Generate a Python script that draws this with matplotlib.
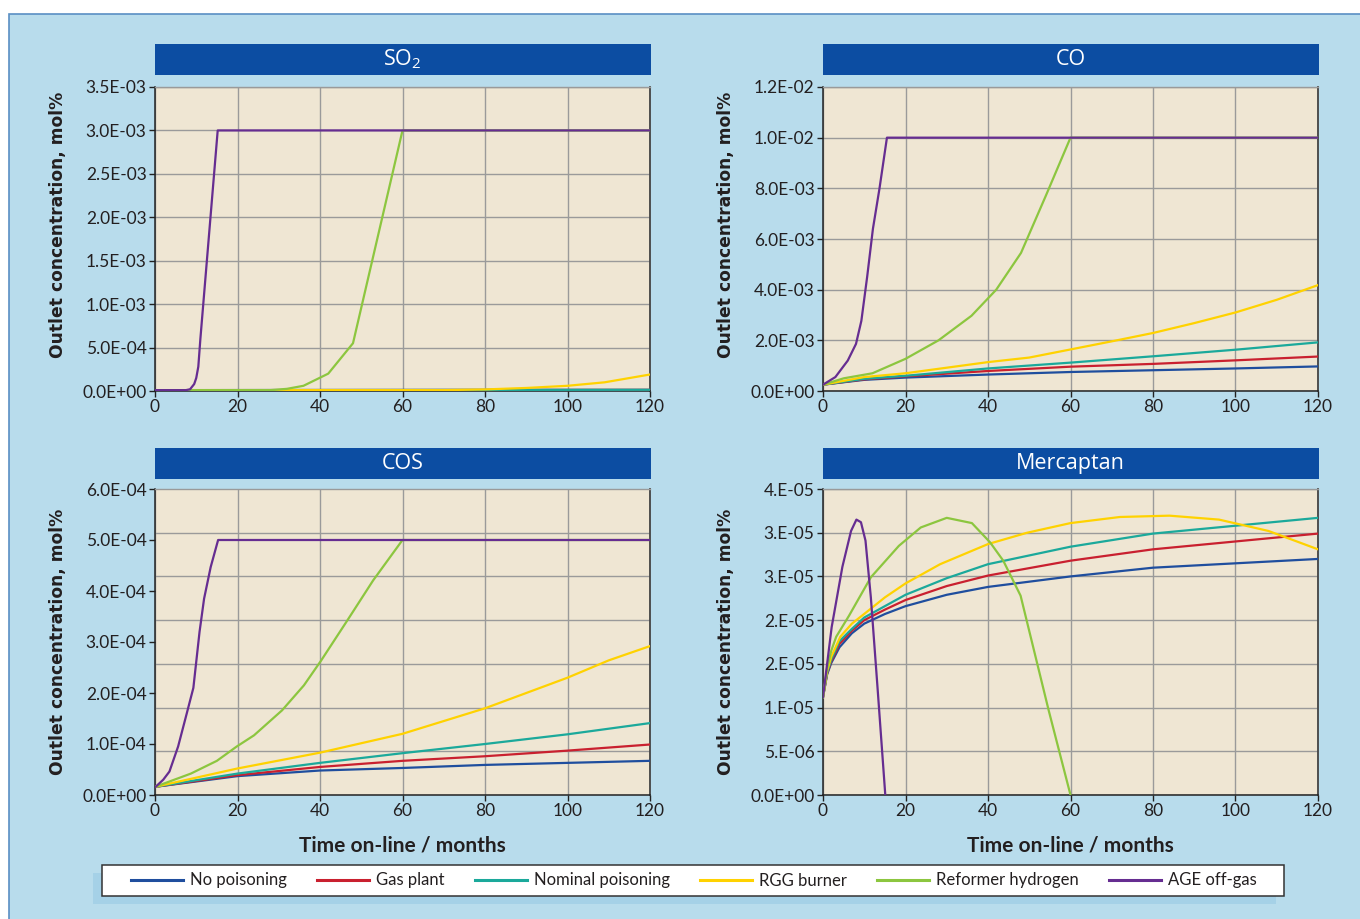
import matplotlib
matplotlib.use("Agg")
import matplotlib.pyplot as plt
from matplotlib.ticker import FixedLocator, FixedFormatter
from matplotlib.patches import Rectangle
from matplotlib.lines import Line2D
import numpy as np

# ---------------- data ----------------
series_names = ["No poisoning", "Gas plant", "Nominal poisoning", "RGG burner",
                "Reformer hydrogen", "AGE off-gas"]
series_colors = ["#1F4E9E", "#C9202F", "#1BA99B", "#FFD200", "#8CC63F", "#662D91"]

# SO2
so2_t_low = [0, 120]
so2_blue = [1.0e-5, 1.2e-5]
so2_red = [1.0e-5, 1.3e-5]
so2_teal = [1.0e-5, 1.4e-5]
so2_t_rgg = [0, 70, 80, 90, 100, 109, 120]
so2_rgg = [1.0e-5, 1.0e-5, 1.8e-5, 3.5e-5, 6.0e-5, 1.0e-4, 1.9e-4]
so2_t_ref = [0, 28, 32, 36, 42, 48, 60, 120]
so2_ref = [1.0e-5, 1.0e-5, 2.5e-5, 6.0e-5, 2.0e-4, 5.5e-4, 3.0e-3, 3.0e-3]
so2_t_age = [0, 7.5, 8.5, 9.5, 10, 10.5, 11, 15.2, 120]
so2_age = [1.0e-5, 1.0e-5, 2.0e-5, 8.0e-5, 1.5e-4, 2.8e-4, 6.0e-4, 3.0e-3, 3.0e-3]

# CO
co_t = [0, 10, 20, 40, 60, 80, 100, 120]
co_blue = [2.5e-4, 4.4e-4, 5.3e-4, 6.5e-4, 7.5e-4, 8.2e-4, 8.9e-4, 9.7e-4]
co_red = [2.5e-4, 4.6e-4, 5.8e-4, 7.9e-4, 9.6e-4, 1.07e-3, 1.21e-3, 1.36e-3]
co_teal = [2.5e-4, 4.8e-4, 6.0e-4, 8.9e-4, 1.12e-3, 1.37e-3, 1.63e-3, 1.92e-3]
co_t_rgg = [0, 10, 20, 30, 40, 50, 60, 70, 80, 90, 100, 110, 120]
co_rgg = [2.5e-4, 5.5e-4, 7.0e-4, 9.2e-4, 1.14e-3, 1.32e-3, 1.64e-3, 1.96e-3,
          2.29e-3, 2.68e-3, 3.10e-3, 3.60e-3, 4.18e-3]
co_t_ref = [0, 5, 12, 20, 28, 36, 42, 48, 54, 60, 120]
co_ref = [2.5e-4, 5.0e-4, 7.0e-4, 1.27e-3, 2.0e-3, 2.97e-3, 4.0e-3, 5.45e-3,
          7.7e-3, 1.0e-2, 1.0e-2]
co_t_age = [0, 3, 6, 8, 9.3, 10.7, 12.1, 13.7, 15.5, 120]
co_age = [2.5e-4, 5.5e-4, 1.2e-3, 1.86e-3, 2.77e-3, 4.5e-3, 6.4e-3, 8.0e-3,
          1.0e-2, 1.0e-2]

# COS
cos_t = [0, 20, 40, 60, 80, 100, 120]
cos_blue = [1.6e-5, 3.7e-5, 4.8e-5, 5.3e-5, 5.9e-5, 6.3e-5, 6.7e-5]
cos_red = [1.6e-5, 3.9e-5, 5.5e-5, 6.7e-5, 7.6e-5, 8.7e-5, 9.9e-5]
cos_teal = [1.6e-5, 4.2e-5, 6.3e-5, 8.2e-5, 1.0e-4, 1.19e-4, 1.41e-4]
cos_t_rgg = [0, 20, 40, 60, 80, 100, 110, 120]
cos_rgg = [1.6e-5, 5.2e-5, 8.3e-5, 1.2e-4, 1.7e-4, 2.3e-4, 2.64e-4, 2.92e-4]
cos_t_ref = [0, 8.7, 15, 19.8, 24, 30.8, 36.1, 40.3, 46.6, 52.9, 60, 120]
cos_ref = [1.6e-5, 4.2e-5, 6.7e-5, 9.5e-5, 1.17e-4, 1.66e-4, 2.15e-4, 2.64e-4,
           3.42e-4, 4.21e-4, 5.0e-4, 5.0e-4]
cos_t_age = [0, 2, 3.5, 5.6, 7.7, 9.3, 10.8, 11.9, 13.5, 15.3, 120]
cos_age = [1.5e-5, 3.0e-5, 4.6e-5, 9.5e-5, 1.6e-4, 2.1e-4, 3.2e-4, 3.85e-4,
           4.47e-4, 5.0e-4, 5.0e-4]

# Mercaptan
mer_t = [0, 1, 2, 4, 7, 10, 15, 20, 30, 40, 60, 80, 100, 120]
mer_blue = [11.2e-6, 13.8e-6, 15.1e-6, 16.9e-6, 18.5e-6, 19.6e-6, 20.7e-6, 21.6e-6,
            22.9e-6, 23.8e-6, 25.0e-6, 26.0e-6, 26.5e-6, 27.0e-6]
mer_red = [11.2e-6, 13.9e-6, 15.3e-6, 17.3e-6, 18.8e-6, 20.0e-6, 21.2e-6, 22.3e-6,
           23.9e-6, 25.1e-6, 26.8e-6, 28.1e-6, 29.0e-6, 29.9e-6]
mer_teal = [11.2e-6, 14.0e-6, 15.5e-6, 17.6e-6, 19.0e-6, 20.3e-6, 21.6e-6, 22.9e-6,
            24.8e-6, 26.4e-6, 28.4e-6, 29.9e-6, 30.8e-6, 31.7e-6]
mer_t_rgg = [0, 1, 2, 4.2, 7, 10.5, 15, 20, 28.4, 40, 49.5, 60, 72, 84, 96, 108, 120]
mer_rgg = [11.2e-6, 14.2e-6, 15.8e-6, 18.1e-6, 19.6e-6, 20.9e-6, 22.6e-6, 24.2e-6,
           26.4e-6, 28.7e-6, 30.0e-6, 31.1e-6, 31.8e-6, 31.95e-6, 31.5e-6, 30.2e-6, 28.1e-6]
mer_t_ref = [0, 1, 2, 3.2, 6.3, 11.6, 18.4, 23.7, 30, 36.1, 40.5, 43.7, 47.9, 54.7, 60]
mer_ref = [11.2e-6, 14.5e-6, 16.5e-6, 18.1e-6, 20.5e-6, 24.9e-6, 28.5e-6, 30.6e-6,
           31.7e-6, 31.1e-6, 28.9e-6, 26.8e-6, 22.8e-6, 9.7e-6, 0.0]
mer_t_age = [0, 2.1, 4.7, 6.8, 8.1, 9.2, 10.3, 11.6, 13.2, 15.1]
mer_age = [11.2e-6, 19.2e-6, 26.1e-6, 30.2e-6, 31.5e-6, 31.2e-6, 29.1e-6, 22.6e-6,
           12.4e-6, 0.0]

# ticks
x_ticks = [0, 20, 40, 60, 80, 100, 120]
so2_yticks = [0, 5e-4, 1e-3, 1.5e-3, 2e-3, 2.5e-3, 3e-3, 3.5e-3]
so2_ylabels = ["0.0E+00", "5.0E-04", "1.0E-03", "1.5E-03", "2.0E-03", "2.5E-03",
               "3.0E-03", "3.5E-03"]
co_yticks = [0, 2e-3, 4e-3, 6e-3, 8e-3, 1e-2, 1.2e-2]
co_ylabels = ["0.0E+00", "2.0E-03", "4.0E-03", "6.0E-03", "8.0E-03", "1.0E-02", "1.2E-02"]
cos_yticks = [0, 1e-4, 2e-4, 3e-4, 4e-4, 5e-4, 6e-4]
cos_ylabels = ["0.0E+00", "1.0E-04", "2.0E-04", "3.0E-04", "4.0E-04", "5.0E-04", "6.0E-04"]
cos_ygrid = [k * 6e-4 / 7 for k in range(1, 7)]
mer_yticks = [0, 5e-6, 1e-5, 1.5e-5, 2e-5, 2.5e-5, 3e-5, 3.5e-5]
mer_ylabels = ["0.0E+00", "5.E-06", "1.E-05", "2.E-05", "2.E-05", "3.E-05", "3.E-05", "4.E-05"]

titles = ["SO$_\\mathregular{2}$", "CO", "COS", "Mercaptan"]
ylabel = "Outlet concentration, mol%"
xlabel = "Time on-line / months"

# ---------------- style ----------------
W, H = 1360, 919
BG = "#B8DCEC"
PLOT_BG = "#EFE6D3"
BAR = "#0C4DA2"
GRID = "#9A9A9A"
TICKFONT = ["Lato", "DejaVu Sans"]
plt.rcParams["mathtext.fontset"] = "custom"
plt.rcParams["mathtext.rm"] = "Open Sans"

fig = plt.figure(figsize=(W / 100, H / 100), dpi=100)
fig.patch.set_facecolor("white")

# background panel with border (right/bottom edges off-canvas)
fig.add_artist(Rectangle((9 / W, -0.05), 1.1, 1 - 14 / H + 0.05, transform=fig.transFigure,
                         facecolor=BG, edgecolor="#5A8FC4", linewidth=1.2, zorder=-10,
                         clip_on=False))


def fx(px):
    return px / W


def fy(py):
    return 1 - py / H


panels = [
    (155, 87, 391),
    (823, 87, 391),
    (155, 489, 795),
    (823, 489, 795),
]
axw = 495

axes = []
for (x0, ytop, ybot) in panels:
    ax = fig.add_axes([fx(x0), fy(ybot), axw / W, (ybot - ytop) / H])
    axes.append(ax)

data = [
    [(so2_t_low, so2_blue), (so2_t_low, so2_red), (so2_t_low, so2_teal),
     (so2_t_rgg, so2_rgg), (so2_t_ref, so2_ref), (so2_t_age, so2_age)],
    [(co_t, co_blue), (co_t, co_red), (co_t, co_teal),
     (co_t_rgg, co_rgg), (co_t_ref, co_ref), (co_t_age, co_age)],
    [(cos_t, cos_blue), (cos_t, cos_red), (cos_t, cos_teal),
     (cos_t_rgg, cos_rgg), (cos_t_ref, cos_ref), (cos_t_age, cos_age)],
    [(mer_t, mer_blue), (mer_t, mer_red), (mer_t, mer_teal),
     (mer_t_rgg, mer_rgg), (mer_t_ref, mer_ref), (mer_t_age, mer_age)],
]
yticks = [so2_yticks, co_yticks, cos_yticks, mer_yticks]
ylabels_list = [so2_ylabels, co_ylabels, cos_ylabels, mer_ylabels]
ymax = [3.5e-3, 1.2e-2, 6e-4, 3.5e-5]

for i, ax in enumerate(axes):
    ax.set_facecolor(PLOT_BG)
    for (t, v), c in zip(data[i], series_colors):
        ax.plot(t, v, color=c, lw=1.6, solid_joinstyle="round", zorder=3)
    ax.set_xlim(0, 120)
    ax.set_ylim(0, ymax[i])
    ax.xaxis.set_major_locator(FixedLocator(x_ticks))
    ax.yaxis.set_major_locator(FixedLocator(yticks[i]))
    ax.yaxis.set_major_formatter(FixedFormatter(ylabels_list[i]))
    ax.tick_params(axis="both", direction="out", length=4, width=1, colors="#222222",
                   labelsize=12.5, pad=2)
    for lab in ax.get_xticklabels() + ax.get_yticklabels():
        lab.set_family(TICKFONT)
        lab.set_color("#231F20")
    ax.grid(axis="x", color=GRID, lw=1)
    if i == 2:
        ax.yaxis.set_minor_locator(FixedLocator(cos_ygrid))
        ax.tick_params(axis="y", which="minor", length=0)
        ax.grid(axis="y", which="minor", color=GRID, lw=1)
    else:
        ax.grid(axis="y", which="major", color=GRID, lw=1)
    ax.set_axisbelow(True)
    for s in ["left", "bottom"]:
        ax.spines[s].set_color("#222222")
        ax.spines[s].set_linewidth(1.1)
    ax.spines["right"].set_color("#444444")
    ax.spines["right"].set_linewidth(1.3)
    ax.spines["top"].set_color("#9A9A9A")
    ax.spines["top"].set_linewidth(1.0)
    ax.set_ylabel(ylabel, fontsize=12.3, fontweight="bold", family="DejaVu Sans",
                  color="#231F20")
    if i < 2:
        ax.yaxis.set_label_coords(-0.178, 0.546)
    else:
        ax.yaxis.set_label_coords(-0.178, 0.5)
        ax.set_xlabel(xlabel, fontsize=15, fontweight="bold",
                      family=["Lato", "DejaVu Sans"], color="#231F20")
        ax.xaxis.set_label_coords(0.5, -0.132)

# title bars
bars = [(155, 44, 75), (823, 44, 75), (155, 448, 479), (823, 448, 479)]
for (x0, yt, yb), title in zip(bars, titles):
    fig.add_artist(Rectangle((fx(x0), fy(yb)), (axw + 1) / W, (yb - yt) / H,
                             transform=fig.transFigure, facecolor=BAR, edgecolor="none"))
    fig.text(fx(x0 + axw / 2), fy((yt + yb) / 2), title, color="white",
             fontsize=15.5, family=["Open Sans", "DejaVu Sans"], ha="center", va="center")

# legend shadow and frame
fig.add_artist(Rectangle((fx(93), fy(904)), (1276 - 93) / W, (904 - 873) / H,
                         transform=fig.transFigure, facecolor="#A5D1E7", edgecolor="none"))
fig.add_artist(Rectangle((fx(102), fy(896)), (1284 - 102) / W, (896 - 865) / H,
                         transform=fig.transFigure, facecolor="white",
                         edgecolor="#333333", linewidth=1.1))

handles = [Line2D([], [], color=c, lw=2.2) for c in series_colors]
leg = fig.legend(handles, series_names, loc="center",
                 bbox_to_anchor=(fx(694), fy(880.5)),
                 ncol=6, frameon=False,
                 handlelength=3.1, handletextpad=0.45, columnspacing=1.8,
                 borderpad=0.2, borderaxespad=0,
                 prop={"family": TICKFONT, "size": 12})
for t in leg.get_texts():
    t.set_color("#231F20")

fig.savefig("out.png", dpi=100, facecolor=fig.get_facecolor())
